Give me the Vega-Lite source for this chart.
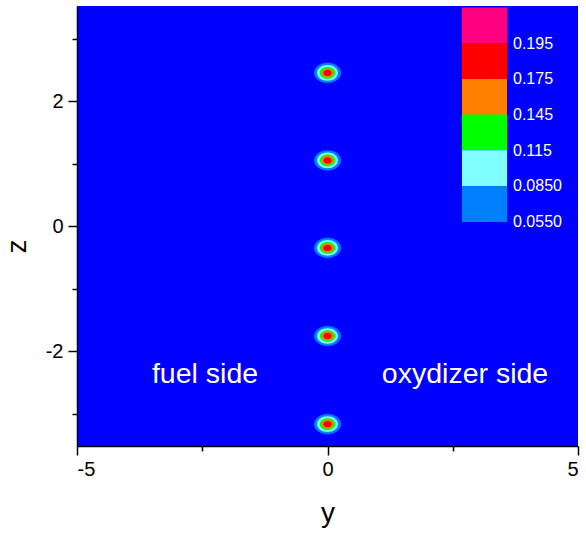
{
  "$schema": "https://vega.github.io/schema/vega-lite/v6.json",
  "width": 501,
  "height": 440,
  "autosize": "none",
  "padding": {"left": 77, "top": 6, "right": 8, "bottom": 88},
  "background": "white",
  "config": {
    "view": {"fill": "#0000FF", "stroke": null},
    "font": "Liberation Sans",
    "axis": {
      "domainColor": "black", "domainWidth": 1.5,
      "tickColor": "black", "tickWidth": 1.5,
      "labelColor": "black", "labelFontSize": 20, "labelFont": "Liberation Sans",
      "titleColor": "black", "titleFontSize": 28, "titleFontWeight": "normal", "titleFont": "Liberation Sans",
      "grid": false
    }
  },
  "layer": [
    {
      "data": {
        "values": [
          {"y": 0, "z": 2.45, "level": 0.055}, {"y": 0, "z": 1.05, "level": 0.055}, {"y": 0, "z": -0.35, "level": 0.055}, {"y": 0, "z": -1.76, "level": 0.055}, {"y": 0, "z": -3.17, "level": 0.055},
          {"y": 0, "z": 2.45, "level": 0.085}, {"y": 0, "z": 1.05, "level": 0.085}, {"y": 0, "z": -0.35, "level": 0.085}, {"y": 0, "z": -1.76, "level": 0.085}, {"y": 0, "z": -3.17, "level": 0.085},
          {"y": 0, "z": 2.45, "level": 0.115}, {"y": 0, "z": 1.05, "level": 0.115}, {"y": 0, "z": -0.35, "level": 0.115}, {"y": 0, "z": -1.76, "level": 0.115}, {"y": 0, "z": -3.17, "level": 0.115},
          {"y": 0, "z": 2.45, "level": 0.145}, {"y": 0, "z": 1.05, "level": 0.145}, {"y": 0, "z": -0.35, "level": 0.145}, {"y": 0, "z": -1.76, "level": 0.145}, {"y": 0, "z": -3.17, "level": 0.145},
          {"y": 0, "z": 2.45, "level": 0.175}, {"y": 0, "z": 1.05, "level": 0.175}, {"y": 0, "z": -0.35, "level": 0.175}, {"y": 0, "z": -1.76, "level": 0.175}, {"y": 0, "z": -3.17, "level": 0.175}
        ]
      },
      "mark": {
        "type": "point", "filled": true, "opacity": 1, "strokeWidth": 0,
        "shape": "M -1 0 C -1 -0.4142 -0.5523 -0.75 0 -0.75 C 0.5523 -0.75 1 -0.4142 1 0 C 1 0.4142 0.5523 0.75 0 0.75 C -0.5523 0.75 -1 0.4142 -1 0 Z"
      },
      "encoding": {
        "x": {
          "field": "y", "type": "quantitative",
          "scale": {"domain": [-5, 5], "nice": false, "zero": false},
          "axis": {
            "orient": "bottom", "values": [-5, 0, 5], "tickSize": 9, "labelPadding": 4,
            "labelExpr": "datum.value < 0 ? '-' + abs(datum.value) : '' + datum.value",
            "title": "y", "titlePadding": 20
          }
        },
        "y": {
          "field": "z", "type": "quantitative",
          "scale": {"domain": [-3.52, 3.52], "nice": false, "zero": false},
          "axis": {
            "orient": "left", "values": [-2, 0, 2], "tickSize": 9, "labelPadding": 5,
            "labelExpr": "datum.value < 0 ? '-' + abs(datum.value) : '' + datum.value",
            "title": "z", "titlePadding": 14, "titleY": 240, "titleAngle": 270
          }
        },
        "size": {
          "field": "level", "type": "quantitative",
          "scale": {"type": "linear", "domain": [0.055, 0.085, 0.115, 0.145, 0.175], "range": [720, 430, 240, 130, 70]},
          "legend": null
        },
        "color": {
          "field": "level", "type": "ordinal",
          "scale": {
            "domain": [0.195, 0.175, 0.145, 0.115, 0.085, 0.055],
            "range": ["#FF0080", "#FF0000", "#FF8000", "#00FF00", "#80FFFF", "#0080FF"]
          },
          "legend": {
            "orient": "none", "legendX": 385, "legendY": 15,
            "title": null, "padding": 0,
            "symbolType": "M -1 -1.6 H 1 V 0 H -1 Z",
            "symbolSize": 2025, "symbolStrokeWidth": 0, "symbolOpacity": 1,
            "rowPadding": -9.3,
            "labelFontSize": 16, "labelColor": "white", "labelOffset": 6, "labelFont": "Liberation Sans",
            "labelExpr": "datum.value < 0.1 ? format(datum.value, '.4f') : format(datum.value, '.3f')"
          }
        }
      }
    },
    {
      "data": {
        "values": [
          {"y": -2.445, "z": -2.51, "label": "fuel side"},
          {"y": 2.745, "z": -2.51, "label": "oxydizer side"}
        ]
      },
      "mark": {"type": "text", "color": "white", "fontSize": 28.5, "align": "center", "baseline": "alphabetic", "font": "Liberation Sans"},
      "encoding": {
        "x": {
          "field": "y", "type": "quantitative",
          "axis": {"orient": "bottom", "values": [-2.5, 2.5], "labels": false, "domain": false, "tickSize": 5, "title": null}
        },
        "y": {
          "field": "z", "type": "quantitative",
          "axis": {"orient": "left", "values": [-3, -1, 1, 3], "labels": false, "domain": false, "tickSize": 5, "title": null}
        },
        "text": {"field": "label"}
      }
    }
  ],
  "resolve": {"axis": {"x": "independent", "y": "independent"}}
}
